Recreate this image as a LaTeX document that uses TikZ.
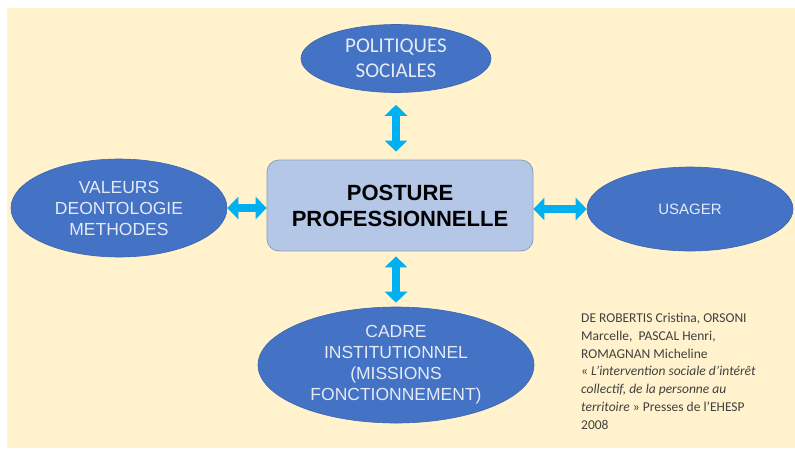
\documentclass[tikz,border=0pt]{standalone}
\usepackage{fontspec}
\setmainfont{Liberation Sans}
\newfontfamily\calibrilike{Carlito}
\usetikzlibrary{shapes.geometric,arrows.meta}
\definecolor{bgyellow}{HTML}{FFF2CC}
\definecolor{ovalblue}{HTML}{4472C4}
\definecolor{ovaledge}{HTML}{3B65B0}
\definecolor{ovaltext}{HTML}{E4EBF7}
\definecolor{boxfill}{HTML}{B4C7E7}
\definecolor{boxedge}{HTML}{8A9DBB}
\definecolor{linkcyan}{HTML}{00B0F0}
\definecolor{citegray}{HTML}{404040}

\begin{document}
\begin{tikzpicture}[x=1pt,y=-1pt,
  oval/.style={ellipse, fill=ovalblue, draw=ovaledge, line width=0.6pt,
    inner sep=0pt, text=ovaltext, align=center,
    font=\fontsize{17.5}{21}\selectfont},
  hub/.style={rectangle, rounded corners=12pt, fill=boxfill, draw=boxedge,
    line width=0.8pt, minimum width=266pt, minimum height=91pt,
    align=center, font=\fontsize{22}{26}\selectfont\bfseries},
  link/.style={draw=linkcyan, line width=8pt,
    {Triangle[width=22pt,length=11pt]}-{Triangle[width=22pt,length=11pt]}}]

  % page and panel
  \useasboundingbox (0,0) rectangle (795,448);
  \fill[white] (0,0) rectangle (795,448);
  \fill[bgyellow] (7,8) rectangle (795,448);

  % central box
  \node[hub] (post) at (400,205.5) {POSTURE\\PROFESSIONNELLE};

  % surrounding ovals
  \node[oval, minimum width=190pt, minimum height=68pt,
        font=\calibrilike\fontsize{21}{25}\selectfont]
        (pol) at (396,58.5) {POLITIQUES\\SOCIALES};
  \node[oval, minimum width=216pt, minimum height=98pt]
        (val) at (119,208) {VALEURS\\DEONTOLOGIE\\METHODES};
  \node[oval, minimum width=206pt, minimum height=84pt,
        font=\fontsize{15}{18}\selectfont]
        (usa) at (690,209) {USAGER};
  \node[oval, minimum width=276pt, minimum height=116pt]
        (cad) at (396,365) {CADRE\\INSTITUTIONNEL\\(MISSIONS\\FONCTIONNEMENT)};

  % two-way links
  \draw[link, shorten <=12pt, shorten >=8pt] (pol.south) -- (pol.south |- post.north);
  \draw[link, shorten <=5pt, shorten >=4pt] (cad.north |- post.south) -- (cad.north);
  \draw[link] (val.east) -- (val.east -| post.west);
  \draw[link] (post.east |- usa.west) -- (usa.west);

  % reference
  \node[anchor=north west, inner sep=0pt, align=left, text=citegray,
        font=\calibrilike\fontsize{13.5}{17.8}\selectfont]
        (ref) at (581,313)
        {DE ROBERTIS Cristina, ORSONI\\
         Marcelle,\ \ PASCAL Henri,\\
         ROMAGNAN Micheline\\
         « \textit{L’intervention sociale d’intérêt}\\
         \textit{collectif, de la personne au}\\
         \textit{territoire} » Presses de l’EHESP\\
         2008};
\end{tikzpicture}
\end{document}
